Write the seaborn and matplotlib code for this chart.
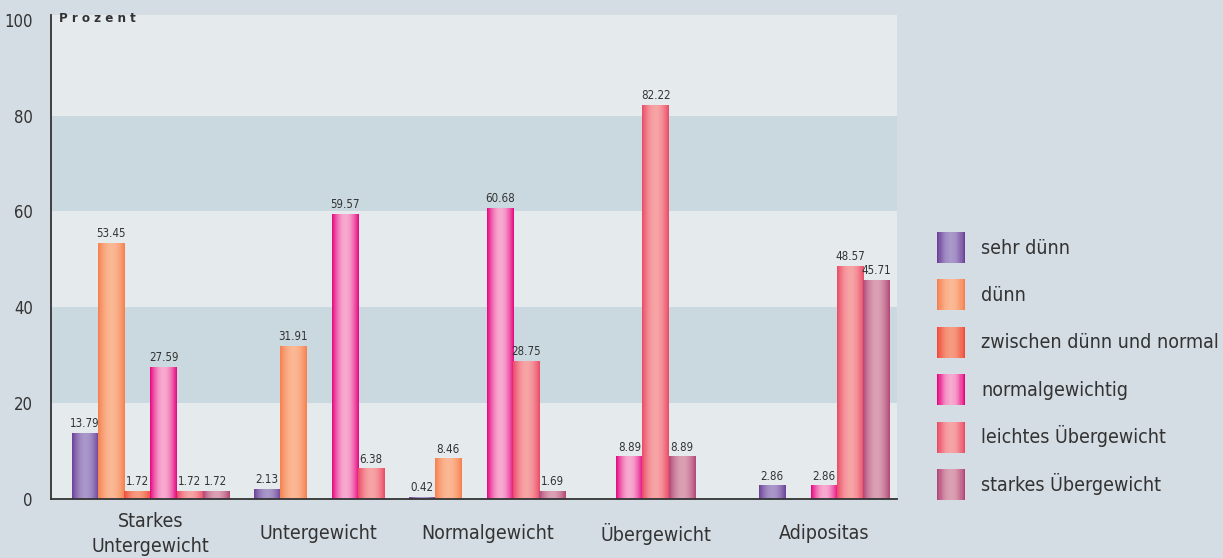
import numpy as np
import pandas as pd
import matplotlib
matplotlib.use('Agg')
import matplotlib.pyplot as plt
import seaborn as sns
from matplotlib.colors import to_rgb
from matplotlib.patches import Patch, Rectangle
from matplotlib.legend_handler import HandlerBase

# Data
groups = ['Starkes\nUntergewicht', 'Untergewicht', 'Normalgewicht', 'Übergewicht', 'Adipositas']
series = ['sehr dünn', 'dünn', 'zwischen dünn und normal', 'normalgewichtig',
          'leichtes Übergewicht', 'starkes Übergewicht']

sehr_duenn = [13.79, 2.13, 0.42, np.nan, 2.86]
duenn = [53.45, 31.91, 8.46, np.nan, np.nan]
zwischen = [1.72, np.nan, np.nan, np.nan, np.nan]
normal = [27.59, 59.57, 60.68, 8.89, 2.86]
leicht = [1.72, 6.38, 28.75, 82.22, 48.57]
stark = [1.72, np.nan, 1.69, 8.89, 45.71]
values = [sehr_duenn, duenn, zwischen, normal, leicht, stark]

y_ticks = [0, 20, 40, 60, 80, 100]

edge_colors = ['#6b3f97', '#f67f4e', '#f04b3a', '#e6047f', '#ea4a66', '#b24577']
light_colors = ['#aa98ca', '#fbb894', '#f69a80', '#f7aad0', '#f7a4a5', '#dba1b3']

fig_bg = '#d4dce4'
band_light = '#e5eaed'
band_dark = '#cad9df'
text_col = '#333333'

sns.set_theme(style='white')
plt.rcParams['font.family'] = ['DejaVu Sans']
plt.rcParams['font.stretch'] = 'condensed'
plt.rcParams['text.color'] = text_col

# Bars of a group sit next to each other, a missing run in the middle leaves one gap
group_step = 6.45
rows = []
for k, g in enumerate(groups):
    col = [v[k] for v in values]
    present = [i for i, v in enumerate(col) if not np.isnan(v)]
    slot = 0
    placed = []
    for i in range(present[0], present[-1] + 1):
        if np.isnan(col[i]):
            if not np.isnan(col[i - 1]):
                slot += 1
            continue
        placed.append((i, slot))
        slot += 1
    for i, s in placed:
        rows.append({'group': g, 'series': series[i], 'value': col[i],
                     'x': round(k * group_step + s - (slot - 1) / 2, 3)})
df = pd.DataFrame(rows)

fig = plt.figure(figsize=(12.23, 5.58), dpi=100, facecolor=fig_bg)
ax = fig.add_axes([51 / 1223, 59 / 558, 846 / 1223, 484 / 558])
ax.set_facecolor(band_light)
ax.axhspan(20, 40, color=band_dark, zorder=0, lw=0)
ax.axhspan(60, 80, color=band_dark, zorder=0, lw=0)

palette = dict(zip(series, light_colors))
sns.barplot(data=df, x='x', y='value', hue='series', hue_order=series, palette=palette,
            native_scale=True, dodge=False, width=1.0, errorbar=None, legend=False,
            saturation=1, linewidth=0, ax=ax)


def gradient(edge, light, n=64):
    # dark at both sides, light in the middle
    e = np.array(to_rgb(edge))
    l = np.array(to_rgb(light))
    t = np.linspace(0, 1, n)
    f = np.sin(np.pi * t) ** 0.9
    return (e[None, :] + (l - e)[None, :] * f[:, None])[None, :, :]


light_rgb = np.array([to_rgb(c) for c in light_colors])
for cont in ax.containers:
    for bar in cont:
        fc = np.array(bar.get_facecolor()[:3])
        j = int(np.argmin(((light_rgb - fc) ** 2).sum(axis=1)))
        x0, y0 = bar.get_x(), bar.get_y()
        w, h = bar.get_width(), bar.get_height()
        im = ax.imshow(gradient(edge_colors[j], light_colors[j]),
                       extent=(x0, x0 + w, y0, y0 + h), aspect='auto',
                       interpolation='bilinear', zorder=bar.get_zorder() + 0.1)
        im.set_clip_path(bar)
    ax.bar_label(cont, fmt='%.2f', padding=2, fontsize=8.3, color=text_col)

ax.set_xlim(-3.81, 28.6)
ax.set_ylim(0, 101)
ax.set_yticks(y_ticks)
ax.set_yticklabels([str(t) for t in y_ticks], fontsize=12, color=text_col)
ax.set_xticks([k * group_step for k in range(len(groups))])
ax.set_xticklabels(groups, fontsize=14, color=text_col, linespacing=1.4)
for lab in ax.get_xticklabels():
    lab.set_verticalalignment('center')
ax.tick_params(axis='x', length=0, pad=25)
ax.tick_params(axis='y', length=0, pad=13)
ax.set_xlabel('')
ax.set_ylabel('')
ax.grid(False)
for side in ['top', 'right']:
    ax.spines[side].set_visible(False)
for side in ['left', 'bottom']:
    ax.spines[side].set_color(text_col)
    ax.spines[side].set_linewidth(1.3)

ax.text(0.01, 0.993, 'P r o z e n t', transform=ax.transAxes, fontsize=9.5,
        fontweight='bold', ha='left', va='center', color=text_col)


class GradientHandler(HandlerBase):
    def __init__(self, edge, light):
        super().__init__()
        self.edge = edge
        self.light = light

    def create_artists(self, legend, orig_handle, xdescent, ydescent, width, height, fontsize, trans):
        cols = gradient(self.edge, self.light, n=24)[0]
        n = len(cols)
        arts = []
        for i, c in enumerate(cols):
            r = Rectangle((-xdescent + i * width / n, -ydescent), width / n * 1.05, height,
                          facecolor=c, edgecolor='none', lw=0, transform=trans)
            arts.append(r)
        return arts


handles = [Patch(facecolor=c, label=s) for s, c in zip(series, light_colors)]
hmap = {h: GradientHandler(e, l) for h, e, l in zip(handles, edge_colors, light_colors)}
fs = 14
sw_h = 31 * 0.72   # swatch height in points
sw_w = 28 * 0.72
row = 47.4 * 0.72
fig.legend(handles=handles, handler_map=hmap, loc='upper left',
           bbox_to_anchor=(937 / 1223, 1 - 232 / 558), frameon=False,
           fontsize=fs, borderpad=0, borderaxespad=0,
           handlelength=sw_w / fs, handleheight=(sw_h / fs - 0.245) / 0.65,
           labelspacing=(row - sw_h) / fs, handletextpad=16 * 0.72 / fs,
           labelcolor=text_col)

fig.savefig('out.png', dpi=100, facecolor=fig_bg)
